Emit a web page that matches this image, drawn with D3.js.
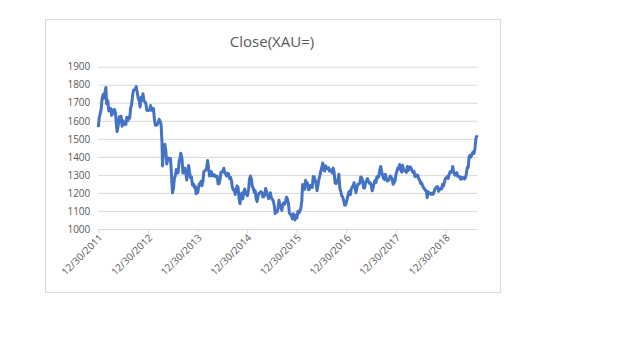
<!DOCTYPE html>
<html>
<head>
<meta charset="utf-8">
<script src="https://cdn.jsdelivr.net/npm/d3@7"></script>
<style>
  body { margin: 0; background: #fff; }
</style>
</head>
<body>
<svg id="chart"></svg>
<script>
// weekly closes of gold (XAU=)
const dates = [
  '2011-12-30', '2012-01-06', '2012-01-13', '2012-01-20', '2012-01-27', '2012-02-03', '2012-02-10', '2012-02-17', '2012-02-24', '2012-02-29',
  '2012-03-09', '2012-03-16', '2012-03-23', '2012-03-30', '2012-04-06', '2012-04-13', '2012-04-20', '2012-04-27', '2012-05-04', '2012-05-11',
  '2012-05-16', '2012-05-25', '2012-06-01', '2012-06-08', '2012-06-15', '2012-06-22', '2012-06-29', '2012-07-06', '2012-07-13', '2012-07-20',
  '2012-07-27', '2012-08-03', '2012-08-10', '2012-08-17', '2012-08-24', '2012-08-31', '2012-09-07', '2012-09-14', '2012-09-21', '2012-09-28',
  '2012-10-04', '2012-10-12', '2012-10-19', '2012-10-26', '2012-11-02', '2012-11-09', '2012-11-16', '2012-11-23', '2012-11-30', '2012-12-07',
  '2012-12-14', '2012-12-21', '2012-12-28', '2013-01-04', '2013-01-11', '2013-01-18', '2013-01-25', '2013-02-01', '2013-02-08', '2013-02-15',
  '2013-02-22', '2013-03-01', '2013-03-08', '2013-03-15', '2013-03-22', '2013-03-29', '2013-04-05', '2013-04-12', '2013-04-16', '2013-04-19',
  '2013-04-26', '2013-05-03', '2013-05-10', '2013-05-17', '2013-05-24', '2013-05-31', '2013-06-07', '2013-06-14', '2013-06-21', '2013-06-28',
  '2013-07-05', '2013-07-12', '2013-07-19', '2013-07-26', '2013-08-02', '2013-08-09', '2013-08-16', '2013-08-23', '2013-08-28', '2013-09-06',
  '2013-09-13', '2013-09-20', '2013-09-27', '2013-10-04', '2013-10-11', '2013-10-18', '2013-10-25', '2013-11-01', '2013-11-08', '2013-11-15',
  '2013-11-22', '2013-11-29', '2013-12-06', '2013-12-13', '2013-12-19', '2013-12-27', '2013-12-31', '2014-01-10', '2014-01-17', '2014-01-24',
  '2014-01-31', '2014-02-07', '2014-02-14', '2014-02-21', '2014-02-28', '2014-03-07', '2014-03-14', '2014-03-21', '2014-03-28', '2014-04-04',
  '2014-04-11', '2014-04-18', '2014-04-25', '2014-05-02', '2014-05-09', '2014-05-16', '2014-05-23', '2014-05-30', '2014-06-06', '2014-06-13',
  '2014-06-20', '2014-06-27', '2014-07-04', '2014-07-11', '2014-07-18', '2014-07-25', '2014-08-01', '2014-08-08', '2014-08-15', '2014-08-22',
  '2014-08-29', '2014-09-05', '2014-09-12', '2014-09-19', '2014-09-26', '2014-10-03', '2014-10-10', '2014-10-17', '2014-10-24', '2014-10-31',
  '2014-11-07', '2014-11-14', '2014-11-21', '2014-11-28', '2014-12-05', '2014-12-12', '2014-12-19', '2014-12-26', '2014-12-31', '2015-01-09',
  '2015-01-16', '2015-01-23', '2015-01-30', '2015-02-06', '2015-02-13', '2015-02-20', '2015-02-27', '2015-03-06', '2015-03-13', '2015-03-20',
  '2015-03-27', '2015-04-03', '2015-04-10', '2015-04-17', '2015-04-24', '2015-05-01', '2015-05-08', '2015-05-15', '2015-05-22', '2015-05-29',
  '2015-06-05', '2015-06-12', '2015-06-19', '2015-06-26', '2015-07-03', '2015-07-10', '2015-07-17', '2015-07-24', '2015-07-31', '2015-08-07',
  '2015-08-14', '2015-08-21', '2015-08-28', '2015-09-04', '2015-09-11', '2015-09-18', '2015-09-25', '2015-10-02', '2015-10-09', '2015-10-16',
  '2015-10-23', '2015-10-30', '2015-11-06', '2015-11-13', '2015-11-20', '2015-11-27', '2015-12-04', '2015-12-11', '2015-12-17', '2015-12-24',
  '2015-12-31', '2016-01-08', '2016-01-15', '2016-01-22', '2016-01-29', '2016-02-05', '2016-02-11', '2016-02-19', '2016-02-26', '2016-03-04',
  '2016-03-11', '2016-03-18', '2016-03-25', '2016-04-01', '2016-04-08', '2016-04-15', '2016-04-22', '2016-04-29', '2016-05-06', '2016-05-13',
  '2016-05-20', '2016-05-27', '2016-06-03', '2016-06-10', '2016-06-17', '2016-06-24', '2016-07-01', '2016-07-08', '2016-07-15', '2016-07-22',
  '2016-07-29', '2016-08-05', '2016-08-12', '2016-08-19', '2016-08-26', '2016-09-02', '2016-09-09', '2016-09-16', '2016-09-23', '2016-09-30',
  '2016-10-07', '2016-10-14', '2016-10-21', '2016-10-28', '2016-11-04', '2016-11-11', '2016-11-18', '2016-11-25', '2016-12-02', '2016-12-09',
  '2016-12-16', '2016-12-23', '2016-12-30', '2017-01-06', '2017-01-13', '2017-01-20', '2017-01-27', '2017-02-03', '2017-02-10', '2017-02-17',
  '2017-02-24', '2017-03-03', '2017-03-10', '2017-03-17', '2017-03-24', '2017-03-31', '2017-04-07', '2017-04-14', '2017-04-21', '2017-04-28',
  '2017-05-05', '2017-05-12', '2017-05-19', '2017-05-26', '2017-06-02', '2017-06-09', '2017-06-16', '2017-06-23', '2017-06-30', '2017-07-07',
  '2017-07-14', '2017-07-21', '2017-07-28', '2017-08-04', '2017-08-11', '2017-08-18', '2017-08-25', '2017-09-01', '2017-09-08', '2017-09-15',
  '2017-09-22', '2017-09-29', '2017-10-06', '2017-10-13', '2017-10-20', '2017-10-27', '2017-11-03', '2017-11-10', '2017-11-17', '2017-11-24',
  '2017-12-01', '2017-12-08', '2017-12-15', '2017-12-22', '2017-12-29', '2018-01-05', '2018-01-12', '2018-01-19', '2018-01-25', '2018-02-02',
  '2018-02-09', '2018-02-16', '2018-02-23', '2018-03-02', '2018-03-09', '2018-03-16', '2018-03-23', '2018-03-30', '2018-04-06', '2018-04-13',
  '2018-04-20', '2018-04-27', '2018-05-04', '2018-05-11', '2018-05-18', '2018-05-25', '2018-06-01', '2018-06-08', '2018-06-15', '2018-06-22',
  '2018-06-29', '2018-07-06', '2018-07-13', '2018-07-20', '2018-07-27', '2018-08-03', '2018-08-10', '2018-08-16', '2018-08-24', '2018-08-31',
  '2018-09-07', '2018-09-14', '2018-09-21', '2018-09-28', '2018-10-05', '2018-10-12', '2018-10-19', '2018-10-26', '2018-11-02', '2018-11-09',
  '2018-11-16', '2018-11-23', '2018-11-30', '2018-12-07', '2018-12-14', '2018-12-21', '2018-12-28', '2019-01-04', '2019-01-11', '2019-01-18',
  '2019-01-25', '2019-02-01', '2019-02-08', '2019-02-15', '2019-02-20', '2019-02-28', '2019-03-08', '2019-03-15', '2019-03-22', '2019-03-29',
  '2019-04-05', '2019-04-12', '2019-04-19', '2019-04-26', '2019-05-03', '2019-05-10', '2019-05-17', '2019-05-24', '2019-05-31', '2019-06-07',
  '2019-06-14', '2019-06-21', '2019-06-28', '2019-07-05', '2019-07-12', '2019-07-19', '2019-07-26', '2019-08-02', '2019-08-09', '2019-08-13',
  '2019-08-16', '2019-08-20'
]

const closes = [
  1565, 1617, 1640, 1665, 1725, 1745, 1725, 1760, 1785, 1695,
  1712, 1655, 1665, 1668, 1630, 1660, 1642, 1663, 1645, 1580,
  1540, 1575, 1622, 1595, 1625, 1570, 1600, 1580, 1592, 1580,
  1620, 1600, 1620, 1615, 1670, 1690, 1737, 1770, 1772, 1774,
  1790, 1757, 1725, 1712, 1677, 1730, 1714, 1750, 1710, 1705,
  1696, 1658, 1657, 1657, 1662, 1685, 1658, 1668, 1668, 1610,
  1575, 1575, 1578, 1592, 1608, 1598, 1580, 1477, 1350, 1400,
  1462, 1470, 1435, 1360, 1388, 1393, 1383, 1390, 1297, 1200,
  1223, 1280, 1295, 1330, 1310, 1313, 1375, 1395, 1420, 1390,
  1310, 1335, 1338, 1310, 1272, 1315, 1352, 1315, 1286, 1288,
  1244, 1250, 1231, 1237, 1195, 1214, 1202, 1248, 1252, 1265,
  1240, 1262, 1318, 1324, 1326, 1339, 1380, 1335, 1294, 1303,
  1318, 1294, 1300, 1301, 1290, 1293, 1292, 1250, 1252, 1274,
  1315, 1317, 1320, 1337, 1310, 1305, 1294, 1310, 1305, 1280,
  1287, 1268, 1231, 1216, 1218, 1192, 1222, 1239, 1231, 1171,
  1140, 1185, 1200, 1167, 1205, 1222, 1196, 1195, 1184, 1216,
  1277, 1293, 1279, 1235, 1227, 1203, 1213, 1167, 1152, 1183,
  1199, 1201, 1207, 1203, 1178, 1179, 1189, 1225, 1205, 1190,
  1168, 1179, 1201, 1173, 1163, 1157, 1132, 1085, 1095, 1094,
  1113, 1160, 1133, 1121, 1103, 1137, 1145, 1137, 1156, 1177,
  1163, 1142, 1088, 1081, 1076, 1056, 1085, 1075, 1050, 1076,
  1061, 1098, 1089, 1097, 1116, 1157, 1247, 1227, 1220, 1270,
  1250, 1254, 1218, 1220, 1241, 1233, 1231, 1291, 1289, 1272,
  1252, 1212, 1243, 1275, 1296, 1322, 1340, 1366, 1327, 1322,
  1351, 1335, 1335, 1341, 1321, 1327, 1327, 1310, 1338, 1315,
  1256, 1251, 1266, 1275, 1304, 1225, 1208, 1183, 1177, 1160,
  1133, 1132, 1151, 1173, 1197, 1209, 1190, 1220, 1234, 1238,
  1257, 1226, 1201, 1229, 1248, 1249, 1254, 1288, 1284, 1268,
  1228, 1228, 1254, 1268, 1279, 1266, 1254, 1256, 1242, 1212,
  1228, 1254, 1269, 1258, 1290, 1284, 1291, 1325, 1347, 1320,
  1297, 1280, 1274, 1303, 1280, 1266, 1269, 1275, 1294, 1288,
  1280, 1248, 1256, 1266, 1302, 1320, 1338, 1332, 1358, 1333,
  1315, 1353, 1330, 1322, 1324, 1314, 1347, 1325, 1332, 1345,
  1336, 1323, 1314, 1320, 1291, 1302, 1293, 1298, 1278, 1270,
  1252, 1256, 1241, 1230, 1223, 1214, 1212, 1174, 1206, 1201,
  1197, 1193, 1199, 1192, 1203, 1222, 1228, 1235, 1232, 1209,
  1222, 1223, 1222, 1248, 1238, 1258, 1280, 1285, 1290, 1280,
  1304, 1318, 1314, 1322, 1346, 1313, 1298, 1302, 1313, 1292,
  1291, 1290, 1276, 1286, 1280, 1285, 1277, 1283, 1305, 1341,
  1341, 1400, 1409, 1400, 1415, 1426, 1419, 1440, 1497, 1510,
  1513, 1520
]

const tickDates = ['2011-12-30', '2012-12-30', '2013-12-30', '2014-12-30', '2015-12-30', '2016-12-30', '2017-12-30', '2018-12-30']
const yTicks = [1000, 1100, 1200, 1300, 1400, 1500, 1600, 1700, 1800, 1900]
const chartTitle = 'Close(XAU=)'

const width = 620
const height = 348
const plot = { left: 98.3, right: 477.3, top: 66.7, bottom: 229 }
const parse = d3.timeParse('%Y-%m-%d')
const fmt = d3.timeFormat('%m/%d/%Y')

const points = dates.map((d, i) => [parse(d), closes[i]])

const svg = d3.select('#chart')
  .attr('width', width)
  .attr('height', height)

const x = d3.scaleTime()
  .domain([parse(dates[0]), parse(dates[dates.length - 1])])
  .range([plot.left, plot.right])
const y = d3.scaleLinear()
  .domain([1000, 1900])
  .range([plot.bottom, plot.top])

// chart border
svg.append('rect')
  .attr('x', 45.5)
  .attr('y', 19.5)
  .attr('width', 455)
  .attr('height', 273)
  .style('fill', '#fff')
  .style('stroke', '#d9d9d9')
  .style('stroke-width', 1)

// title
svg.append('text')
  .attr('x', 272)
  .attr('y', 47)
  .attr('text-anchor', 'middle')
  .style('font-family', 'Open Sans, sans-serif')
  .style('font-size', '15px')
  .style('fill', '#595959')
  .text(chartTitle)

// gridlines + y labels
const yAxis = d3.axisLeft(y)
  .tickValues(yTicks)
  .tickSize(-(plot.right - plot.left))
  .tickPadding(8)
  .tickFormat(d => d)
const gy = svg.append('g')
  .attr('transform', `translate(${plot.left},0)`)
  .call(yAxis)
gy.select('.domain').remove()
gy.selectAll('.tick line')
  .style('stroke', '#d9d9d9')
  .style('stroke-width', 1)
gy.selectAll('.tick text')
  .style('font-family', 'Open Sans, sans-serif')
  .style('font-size', '10px')
  .style('fill', '#595959')

// x axis with rotated date labels
const xAxis = d3.axisBottom(x)
  .tickValues(tickDates.map(parse))
  .tickSize(4)
  .tickFormat(fmt)
const gx = svg.append('g')
  .attr('transform', `translate(0,${plot.bottom})`)
  .call(xAxis)
gx.select('.domain')
  .attr('d', `M${plot.left},0.5H${plot.right}`)
  .style('stroke', '#d9d9d9')
gx.selectAll('.tick line').style('stroke', '#d9d9d9')
gx.selectAll('.tick text')
  .attr('text-anchor', 'end')
  .attr('transform', 'translate(2,7) rotate(-45)')
  .attr('x', 0)
  .attr('y', 0)
  .attr('dy', '0.35em')
  .style('font-family', 'Open Sans, sans-serif')
  .style('font-size', '10px')
  .style('fill', '#595959')

// price line
const line = d3.line()
  .x(d => x(d[0]))
  .y(d => y(d[1]))

svg.append('path')
  .datum(points)
  .attr('d', line)
  .style('fill', 'none')
  .style('stroke', '#4472c4')
  .style('stroke-width', 3)
  .style('stroke-linejoin', 'round')
</script>
</body>
</html>
